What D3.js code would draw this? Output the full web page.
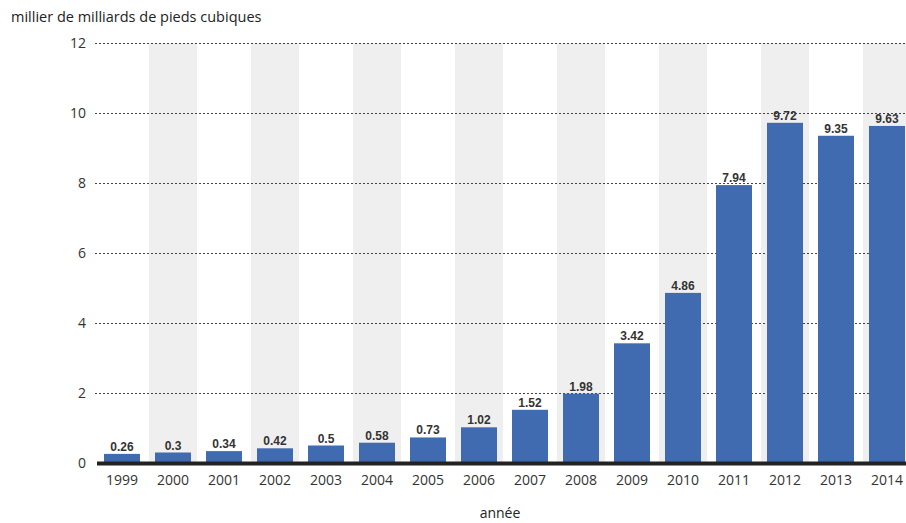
<!DOCTYPE html>
<html><head><meta charset="utf-8">
<script src="https://cdn.jsdelivr.net/npm/d3@7"></script>
<style>body{margin:0;background:#fff}svg{display:block}</style>
</head><body><svg id="c" width="906" height="523"></svg>
<script>
const years = ["1999","2000","2001","2002","2003","2004","2005","2006","2007","2008","2009","2010","2011","2012","2013","2014"];
const values = [0.26,0.3,0.34,0.42,0.5,0.58,0.73,1.02,1.52,1.98,3.42,4.86,7.94,9.72,9.35,9.63];
const yTicks = [0,2,4,6,8,10,12];
const yTitle = "millier de milliards de pieds cubiques";
const xTitle = "année";

const svg = d3.select("#c");
const x = d3.scaleBand().domain(years).range([96.5, 912.5]).paddingInner(15/51).paddingOuter(7.5/51);
const xb = d3.scaleBand().domain(years).range([96.5, 912.5]);
const y = d3.scaleLinear().domain([0,12]).range([463,43]);
const tickFont = "'Open Sans', 'Noto Sans', sans-serif";

// alternating grey bands
svg.append("g").selectAll("rect").data(years.filter((d,i)=>i%2===1)).join("rect")
  .attr("x", d => xb(d) + xb.bandwidth()/2 - 24).attr("width", 48)
  .attr("y", y(12)).attr("height", y(0)-y(12)).attr("fill", "#efefef");

// grid
const grid = d3.axisLeft(y).tickValues(yTicks.filter(v=>v>0)).tickSize(-(906-95)).tickFormat("");
svg.append("g").attr("transform","translate(95,0)").call(grid)
  .call(g=>g.select(".domain").remove())
  .call(g=>g.selectAll("line").attr("stroke","#444").attr("stroke-dasharray","2,2").attr("stroke-width",1));

// bars
svg.append("g").selectAll("rect").data(years).join("rect")
  .attr("x", d => x(d)).attr("width", x.bandwidth())
  .attr("y", (d,i)=>y(values[i])).attr("height",(d,i)=>y(0)-y(values[i]))
  .attr("fill","#416bb1");

// value labels
svg.append("g").selectAll("text").data(years).join("text")
  .attr("x", d => x(d)+x.bandwidth()/2).attr("y",(d,i)=>y(values[i])-3)
  .attr("text-anchor","middle").attr("font-family","'Liberation Sans', Arial, sans-serif")
  .attr("font-weight","bold").attr("font-size","12px").attr("fill","#333")
  .text((d,i)=>values[i]);

// baseline
svg.append("line").attr("x1",97).attr("x2",906).attr("y1",y(0)+0.5).attr("y2",y(0)+0.5)
  .attr("stroke","#222").attr("stroke-width",4);

// y axis labels
const ya = d3.axisLeft(y).tickValues(yTicks).tickSize(0).tickPadding(0).tickFormat(d3.format("d"));
svg.append("g").attr("transform","translate(86,0)").call(ya)
  .call(g=>g.select(".domain").remove())
  .call(g=>g.selectAll("text").attr("font-family",tickFont).attr("font-size","14px").attr("fill","#333").attr("dy","0.35em"));

// x axis labels
const xa = d3.axisBottom(xb).tickSize(0).tickPadding(0);
svg.append("g").attr("transform","translate(0,475)").call(xa)
  .call(g=>g.select(".domain").remove())
  .call(g=>g.selectAll("text").attr("font-family",tickFont).attr("font-size","14px").attr("fill","#333").attr("dy","0.71em"));

svg.append("text").attr("x",11).attr("y",22).attr("font-family",tickFont).attr("font-size","14.5px").attr("fill","#222").text(yTitle);
svg.append("text").attr("x",500).attr("y",518).attr("text-anchor","middle").attr("font-family",tickFont).attr("font-size","14px").attr("fill","#222").text(xTitle);
</script></body></html>
